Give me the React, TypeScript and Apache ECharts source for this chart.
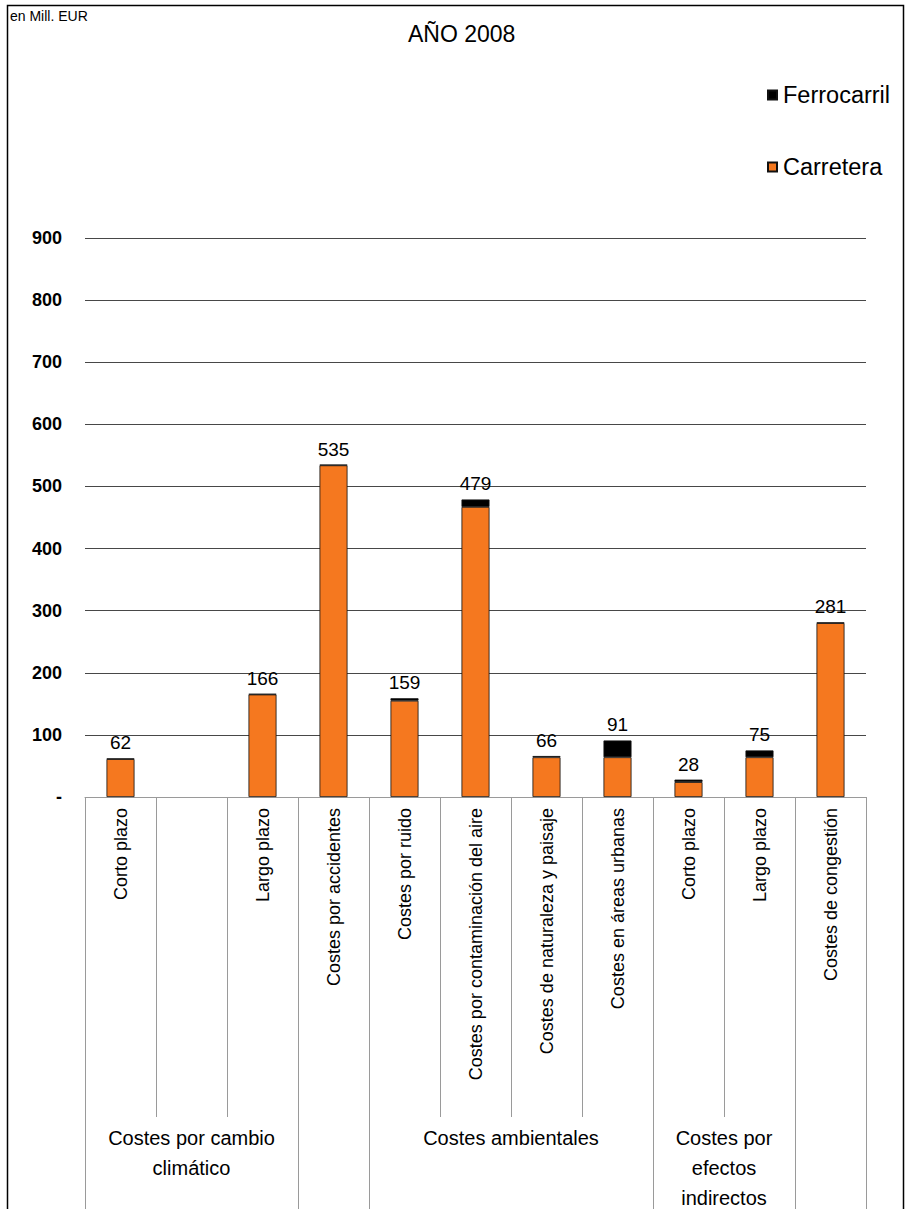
import React, { useEffect, useRef } from "react";
import * as echarts from "echarts";

const categories = [
  "Corto plazo",
  "",
  "Largo plazo",
  "Costes por accidentes",
  "Costes por ruido",
  "Costes por contaminación del aire",
  "Costes de naturaleza y paisaje",
  "Costes en áreas urbanas",
  "Corto plazo",
  "Largo plazo",
  "Costes de congestión",
];
const carretera = [61, null, 165, 534, 155, 467, 64, 64, 24, 64, 280];
const ferrocarril = [1, null, 1, 1, 4, 12, 2, 27, 4, 11, 1];
const totals = [62, null, 166, 535, 159, 479, 66, 91, 28, 75, 281];
const yTicks = [0, 100, 200, 300, 400, 500, 600, 700, 800, 900];

const groupLabels = ["Costes por cambio\nclimático", "", "Costes ambientales", "Costes por\nefectos\nindirectos", ""];
const groupSpans = [3, 1, 4, 2, 1];

const ORANGE = "#F5781F";
const FONT = "'Liberation Sans', Arial, sans-serif";

export default function App() {
  const ref = useRef<HTMLDivElement>(null);
  useEffect(() => {
    document.body.style.margin = "0";
    const chart = echarts.init(ref.current!, null, { renderer: "svg" });
    const W = 907;
    const H = 1209;
    chart.setOption({
      animation: false,
      backgroundColor: "#fff",
      title: {
        text: "AÑO 2008",
        left: 408,
        top: 22,
        padding: 0,
        textStyle: { fontFamily: FONT, fontSize: 23, fontWeight: "normal", color: "#000" },
      },
      legend: [
        {
          data: ["Ferrocarril"],
          left: 767,
          top: 83,
          padding: 0,
          icon: "rect",
          itemWidth: 9,
          itemHeight: 9,
          textStyle: { fontFamily: FONT, fontSize: 23.5, color: "#000", padding: [0, 0, 0, 1] },
        },
        {
          data: ["Carretera"],
          left: 767,
          top: 155,
          padding: 0,
          icon: "rect",
          itemWidth: 9,
          itemHeight: 9,
          textStyle: { fontFamily: FONT, fontSize: 23.5, color: "#000", padding: [0, 0, 0, 1] },
        },
      ],
      grid: { left: 85, right: 41, top: 238, bottom: 412, containLabel: false },
      xAxis: {
        type: "category",
        data: categories,
        axisLine: { show: true, lineStyle: { color: "#9a9a9a", width: 1 } },
        axisTick: { show: false },
        axisLabel: {
          interval: 0,
          rotate: 90,
          margin: 11,
          fontFamily: FONT,
          fontSize: 18,
          color: "#000",
        },
        splitLine: { show: false },
      },
      yAxis: {
        type: "value",
        min: yTicks[0],
        max: yTicks[yTicks.length - 1],
        interval: 100,
        axisLine: { show: false },
        axisTick: { show: false },
        axisLabel: {
          margin: 23,
          fontFamily: FONT,
          fontSize: 18,
          fontWeight: "bold",
          color: "#000",
          formatter: (v: number) => (v === 0 ? "-" : String(v)),
        },
        splitLine: {
          show: true,
          lineStyle: {
            color: ["#9a9a9a", "#474747", "#474747", "#474747", "#474747", "#474747", "#474747", "#474747", "#474747", "#474747"],
            width: 1,
          },
        },
      },
      series: [
        {
          name: "Carretera",
          type: "bar",
          stack: "total",
          barWidth: 28,
          data: carretera,
          itemStyle: { color: ORANGE, borderColor: "#111", borderWidth: 0.8 },
        },
        {
          name: "Ferrocarril",
          type: "bar",
          stack: "total",
          barWidth: 28,
          data: ferrocarril,
          itemStyle: { color: "#000", borderColor: "#111", borderWidth: 0.8 },
          label: {
            show: true,
            position: "top",
            distance: 6,
            fontFamily: FONT,
            fontSize: 19,
            color: "#000",
            formatter: (p: any) => (totals[p.dataIndex] == null ? "" : String(totals[p.dataIndex])),
          },
        },
      ],
    });

    // multi-level category axis decorations, derived from the axis scale
    const c0 = chart.convertToPixel({ xAxisIndex: 0 }, 0) as number;
    const c1 = chart.convertToPixel({ xAxisIndex: 0 }, 1) as number;
    const step = c1 - c0;
    const axisY = chart.convertToPixel({ yAxisIndex: 0 }, 0) as number;
    const startX = c0 - step / 2;
    const shortEnd = axisY + 320;
    const fullEnd = H + 50;

    const fullIdx = new Set<number>([0]);
    let acc = 0;
    groupSpans.forEach((s) => {
      acc += s;
      fullIdx.add(acc);
    });

    const graphics: any[] = [];
    for (let i = 0; i <= categories.length; i++) {
      const x = Math.round(startX + i * step) + 0.5;
      graphics.push({
        type: "line",
        shape: { x1: x, y1: axisY, x2: x, y2: fullIdx.has(i) ? fullEnd : shortEnd },
        style: { stroke: "#9a9a9a", lineWidth: 1 },
        silent: true,
      });
    }
    acc = 0;
    groupLabels.forEach((lab, gi) => {
      const from = acc;
      acc += groupSpans[gi];
      if (!lab) return;
      const cx = startX + ((from + acc) / 2) * step;
      graphics.push({
        type: "text",
        x: cx,
        y: shortEnd + 6,
        style: {
          text: lab,
          fontFamily: FONT,
          fontSize: 20,
          lineHeight: 30,
          fill: "#000",
          align: "center",
          verticalAlign: "top",
        },
        silent: true,
      });
    });
    graphics.push({
      type: "text",
      x: 10,
      y: 9,
      style: { text: "en Mill. EUR", fontFamily: FONT, fontSize: 14, fill: "#000" },
      silent: true,
    });
    graphics.push({
      type: "rect",
      shape: { x: 7.5, y: 5.5, width: W - 11, height: H + 100 },
      style: { fill: "none", stroke: "#000", lineWidth: 1.5 },
      silent: true,
    });
    chart.setOption({ graphic: graphics });

    return () => chart.dispose();
  }, []);
  return <div ref={ref} style={{ width: 907, height: 1209 }} />;
}
